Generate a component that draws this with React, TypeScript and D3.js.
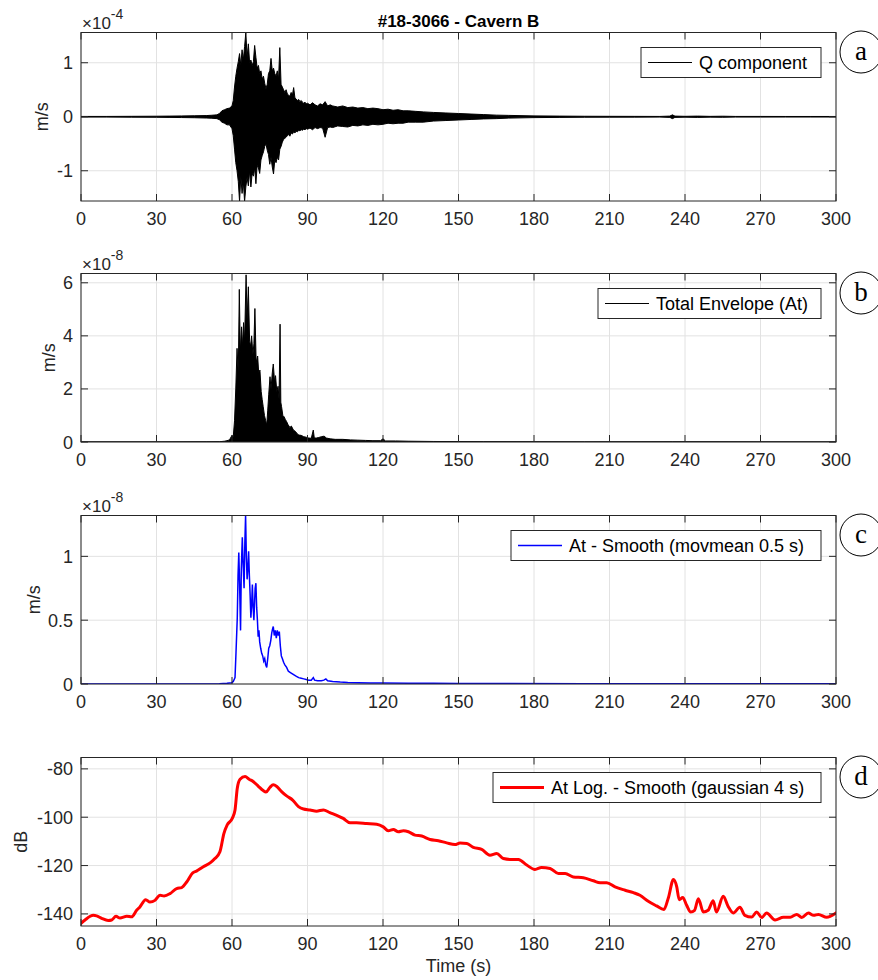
import React from 'react';
import * as d3 from 'd3';

// time axis (s)
const xTicks = [0, 30, 60, 90, 120, 150, 180, 210, 240, 270, 300];

// (a) Q component, upper / lower excursion of the trace, x1e-4 m/s
const qSeries: [number, number, number][] = [
  [0, 0.006, -0.006], [10, 0.006, -0.006], [20, 0.008, -0.008], [30, 0.01, -0.01],
  [35, 0.012, -0.012], [40, 0.015, -0.015], [45, 0.018, -0.018], [50, 0.022, -0.024],
  [52, 0.028, -0.028], [54, 0.035, -0.035], [55, 0.06, -0.055], [56, 0.11, -0.1],
  [57, 0.13, -0.12], [58, 0.15, -0.15], [59, 0.16, -0.15], [60, 0.2, -0.22],
  [60.5, 0.3, -0.35], [61, 0.55, -0.6], [61.5, 0.75, -0.85], [62, 0.9, -1.0],
  [62.5, 1.02, -1.2], [63, 1.17, -1.57], [63.5, 0.95, -1.1], [64, 1.24, -1.42],
  [64.5, 1.05, -1.2], [65, 1.3, -1.57], [65.5, 1.56, -1.3], [66, 1.1, -1.12],
  [66.5, 1.35, -1.28], [67, 1.0, -1.0], [67.5, 1.05, -1.3], [68, 0.95, -1.05],
  [68.5, 1.02, -1.1], [69, 1.32, -0.95], [69.5, 1.1, -1.24], [70, 0.9, -0.9],
  [70.5, 0.95, -0.95], [71, 0.8, -1.05], [71.5, 0.85, -0.8], [72, 0.7, -0.72],
  [72.5, 0.75, -0.65], [73, 0.62, -0.55], [73.5, 0.52, -0.5], [74, 0.6, -0.62],
  [74.5, 0.8, -0.7], [75, 0.85, -0.88], [75.5, 1.08, -0.75], [76, 0.85, -0.93],
  [76.5, 0.9, -1.06], [77, 0.8, -0.8], [77.5, 0.75, -0.85], [78, 0.85, -0.75],
  [78.5, 0.7, -0.8], [79, 1.28, -0.6], [79.5, 0.6, -0.55], [80, 0.55, -0.47],
  [80.5, 0.5, -0.42], [81, 0.45, -0.4], [81.5, 0.5, -0.38], [82, 0.42, -0.35],
  [82.5, 0.4, -0.33], [83, 0.38, -0.36], [83.5, 0.45, -0.3], [84, 0.4, -0.32],
  [84.5, 0.54, -0.28], [85, 0.35, -0.3], [85.5, 0.33, -0.27], [86, 0.3, -0.28],
  [86.5, 0.32, -0.25], [87, 0.28, -0.26], [87.5, 0.3, -0.24], [88, 0.27, -0.25],
  [88.5, 0.25, -0.23], [89, 0.27, -0.24], [89.5, 0.24, -0.22], [90, 0.25, -0.23],
  [91, 0.22, -0.21], [92, 0.26, -0.24], [93, 0.22, -0.2], [94, 0.2, -0.22],
  [95, 0.24, -0.2], [96, 0.22, -0.21], [97, 0.28, -0.38], [98, 0.2, -0.2],
  [99, 0.22, -0.19], [100, 0.2, -0.2], [102, 0.18, -0.17], [104, 0.2, -0.18],
  [106, 0.17, -0.19], [108, 0.18, -0.16], [110, 0.16, -0.17], [112, 0.17, -0.15],
  [114, 0.15, -0.16], [116, 0.16, -0.14], [118, 0.15, -0.15], [120, 0.13, -0.14],
  [122, 0.14, -0.12], [124, 0.12, -0.13], [126, 0.13, -0.12], [128, 0.11, -0.12],
  [130, 0.11, -0.1], [133, 0.1, -0.1], [136, 0.09, -0.1], [140, 0.08, -0.08],
  [145, 0.07, -0.07], [150, 0.06, -0.06], [155, 0.05, -0.05], [160, 0.04, -0.04],
  [165, 0.03, -0.035], [170, 0.025, -0.025], [180, 0.016, -0.016], [190, 0.012, -0.012],
  [200, 0.009, -0.009], [210, 0.008, -0.008], [220, 0.007, -0.007], [230, 0.006, -0.006],
  [234, 0.012, -0.012], [235, 0.035, -0.035], [236, 0.012, -0.012], [240, 0.008, -0.008],
  [245, 0.012, -0.012], [250, 0.007, -0.007], [255, 0.01, -0.01], [260, 0.006, -0.006],
  [270, 0.006, -0.006], [280, 0.005, -0.005], [290, 0.005, -0.005], [300, 0.005, -0.005],
];

// (b) total envelope At, x1e-8 m/s
const envSeries: [number, number][] = [
  [0, 0], [30, 0], [50, 0.005], [55, 0.01], [57, 0.03], [58, 0.05], [59, 0.08],
  [60, 0.25], [60.5, 0.2], [61, 0.8], [61.5, 2.0], [62, 3.53], [62.5, 2.6],
  [62.9, 5.75], [63.3, 3.4], [63.8, 4.34], [64.2, 3.6], [64.6, 4.5], [65, 3.8],
  [65.6, 6.3], [66, 4.6], [66.5, 5.85], [67, 3.8], [67.4, 3.6], [67.8, 4.0],
  [68.3, 3.3], [68.7, 3.7], [69.1, 5.03], [69.6, 3.0], [70.2, 3.24], [70.6, 2.6],
  [71.1, 2.71], [71.6, 1.9], [72, 1.6], [72.4, 1.33], [72.9, 1.0], [73.4, 0.8],
  [73.8, 0.64], [74.2, 1.2], [74.6, 1.8], [75.1, 2.46], [75.5, 2.0], [76, 2.6],
  [76.4, 2.94], [76.9, 2.3], [77.3, 2.5], [77.8, 1.9], [78.3, 2.1], [78.7, 1.6],
  [79.1, 4.44], [79.4, 1.5], [79.7, 1.33], [80.2, 1.0], [80.7, 0.95], [81.2, 0.85],
  [81.7, 0.77], [82.3, 0.65], [83, 0.55], [83.6, 0.6], [84.4, 0.45], [85.2, 0.4],
  [86, 0.3], [86.6, 0.26], [87.5, 0.25], [88.5, 0.2], [89.5, 0.18], [90.5, 0.15],
  [91.5, 0.14], [92.3, 0.45], [92.7, 0.15], [93.5, 0.15], [94.5, 0.17], [95.5, 0.2],
  [96.6, 0.22], [97.5, 0.15], [99, 0.12], [101, 0.1], [104, 0.1], [107, 0.08],
  [110, 0.07], [113, 0.06], [116, 0.05], [119, 0.05], [120, 0.12], [121, 0.04],
  [125, 0.04], [130, 0.03], [140, 0.02], [150, 0.015], [160, 0.01], [180, 0.005],
  [200, 0.003], [235, 0.005], [300, 0],
];

// (c) At smoothed, movmean 0.5 s, x1e-8 m/s
const smoothSeries: [number, number][] = [
  [0, 0], [55, 0.002], [58, 0.005], [59.9, 0.01], [60.5, 0.02], [61.2, 0.05],
  [61.6, 0.25], [62.1, 0.52], [62.4, 0.85], [62.7, 1.03], [63.0, 0.8], [63.4, 0.42],
  [63.7, 0.9], [64.1, 1.15], [64.4, 0.95], [64.8, 0.75], [65.1, 1.1], [65.4, 1.32],
  [65.7, 1.0], [66.0, 0.82], [66.3, 0.9], [66.6, 1.04], [66.9, 0.85], [67.2, 0.7],
  [67.5, 0.52], [67.8, 0.62], [68.1, 0.78], [68.4, 0.6], [68.7, 0.5], [69.0, 0.65],
  [69.2, 0.75], [69.5, 0.79], [69.8, 0.6], [70.1, 0.5], [70.4, 0.37], [70.7, 0.42],
  [71.0, 0.33], [71.4, 0.28], [71.8, 0.24], [72.2, 0.22], [72.6, 0.18], [73.0, 0.2],
  [73.4, 0.15], [73.8, 0.13], [74.2, 0.2], [74.6, 0.28], [75.0, 0.3], [75.4, 0.34],
  [75.8, 0.4], [76.1, 0.43], [76.4, 0.45], [76.8, 0.38], [77.2, 0.42], [77.6, 0.36],
  [78.0, 0.42], [78.4, 0.38], [78.8, 0.41], [79.2, 0.3], [79.6, 0.22], [80.0, 0.2],
  [80.5, 0.17], [81.0, 0.15], [81.7, 0.13], [82.4, 0.1], [83.2, 0.09], [84.0, 0.08],
  [84.8, 0.07], [85.6, 0.06], [86.5, 0.05], [87.5, 0.045], [88.5, 0.04], [89.5, 0.035],
  [90.5, 0.03], [91.5, 0.03], [92.3, 0.05], [92.8, 0.03], [94, 0.025], [95.5, 0.025],
  [96.5, 0.03], [97.3, 0.04], [98, 0.025], [100, 0.02], [103, 0.015], [106, 0.012],
  [110, 0.01], [115, 0.008], [120, 0.008], [130, 0.006], [140, 0.005], [150, 0.004],
  [170, 0.003], [200, 0.002], [300, 0.001],
];

// (d) At log, gaussian 4 s smoothing, dB
const dbSeries: [number, number][] = [
  [0, -143.9], [1.6, -142.5], [4.9, -140.6], [6.2, -140.8], [8.2, -141.8], [10.8, -142.7],
  [12.2, -142.5], [13.9, -141.0], [15.5, -141.7], [18.2, -141.0], [20.1, -141.2],
  [22.1, -138.5], [23.4, -137.1], [25.7, -134.1], [27.4, -135.1], [29.4, -134.4],
  [31.4, -132.3], [33, -132.6], [35.4, -131.6], [38, -129.5], [40, -129.1], [42, -126.8],
  [44.4, -123.0], [45.9, -122.3], [48.6, -120.5], [51.3, -118.9], [53.2, -117.1],
  [55.2, -114.3], [56.8, -106.7], [58.1, -103.2], [60.1, -100.5], [61.2, -97.0],
  [62.1, -88.0], [63.2, -84.3], [65.2, -83.2], [66.8, -84.3], [68.5, -85.3], [70.4, -87.1],
  [72.4, -89.0], [73.5, -89.6], [75.1, -87.6], [76.4, -86.6], [77.8, -87.3], [79.7, -89.4],
  [81.7, -91.2], [84.1, -92.9], [86.4, -95.6], [88.4, -96.6], [91, -97.0], [93.6, -97.5],
  [96.3, -97.0], [98.9, -98.1], [101.6, -99.2], [104.2, -100.5], [106.9, -102.3],
  [109.5, -102.3], [113.5, -102.6], [117.5, -102.9], [120.1, -104.0], [122.1, -105.6],
  [124.1, -105.1], [126.1, -106.0], [128.1, -105.6], [130.1, -106.0], [132.7, -107.4],
  [135.4, -107.8], [138.7, -109.2], [142, -109.7], [145.3, -110.6], [148.6, -111.3],
  [150.6, -110.7], [153.3, -110.9], [155.9, -112.5], [159.2, -113.3], [162.5, -115.7],
  [165.2, -115.0], [167.8, -117.1], [171.1, -117.5], [173.8, -117.5], [177.1, -119.8],
  [180.4, -121.6], [183, -120.8], [186.4, -121.2], [189.7, -123.3], [192.4, -123.3],
  [195.6, -124.7], [199.6, -125.0], [203.6, -126.3], [206.3, -127.1], [208.9, -127.1],
  [212.2, -128.8], [216.2, -130.2], [219.5, -131.2], [222.1, -132.3], [225.4, -134.8],
  [228.7, -136.7], [231.6, -138.2], [233.4, -133.3], [235.4, -125.8], [236.7, -128.7],
  [237.7, -134.1], [239.1, -133.2], [240.6, -136.3], [242.3, -139.2], [243.8, -138.5],
  [245.3, -133.7], [247.3, -139.2], [249.2, -138.5], [251.2, -134.6], [252.5, -139.2],
  [255.2, -132.7], [257.1, -136.8], [259.2, -139.6], [261.8, -137.2], [263.8, -140.6],
  [266.5, -141.3], [268.5, -139.2], [270.5, -141.5], [272.4, -139.6], [275.8, -142.5],
  [279.1, -141.4], [281.8, -141.4], [284.4, -140.2], [286.4, -141.5], [289, -139.6],
  [291.1, -140.6], [293, -140.2], [296.3, -141.4], [300, -139.6],
];

const yTicksA = [-1, 0, 1];
const yTicksB = [0, 2, 4, 6];
const yTicksC = [0, 0.5, 1];
const yTicksD = [-140, -120, -100, -80];

const W = 878;
const H = 980;
const LEFT = 81;
const RIGHT = 836;
const PH = 168.5;
const FONT = '"Liberation Sans", Arial, Helvetica, sans-serif';
const SERIF = '"Liberation Serif", "Times New Roman", serif';
const AXIS = '#262626';
const GRID = '#e2e2e2';
const TICK = 7;

const x = d3.scaleLinear().domain([0, 300]).range([LEFT, RIGHT]);

type PanelProps = {
  id: string;
  top: number;
  domain: [number, number];
  ticks: number[];
  label: string;
  labelX: number;
  exponent?: string;
  letter: string;
  legendText: string;
  legendLeft: number;
  legendColor: string;
  legendWidth: number;
  children: (y: d3.ScaleLinear<number, number>) => React.ReactNode;
};

function Panel(p: PanelProps) {
  const bottom = p.top + PH;
  const y = d3.scaleLinear().domain(p.domain).range([bottom, p.top]);
  const midY = p.top + PH / 2;
  const lgTop = p.top + 15;
  const lgH = 30;
  return (
    <g>
      <defs>
        <clipPath id={`clip-${p.id}`}>
          <rect x={LEFT} y={p.top} width={RIGHT - LEFT} height={PH} />
        </clipPath>
      </defs>
      <rect x={LEFT} y={p.top} width={RIGHT - LEFT} height={PH} fill="#fff" />
      {/* grid */}
      {xTicks.map((t) => (
        <line key={`gx${t}`} x1={x(t)} x2={x(t)} y1={p.top} y2={bottom} stroke={GRID} strokeWidth={1} />
      ))}
      {p.ticks.map((t) => (
        <line key={`gy${t}`} x1={LEFT} x2={RIGHT} y1={y(t)} y2={y(t)} stroke={GRID} strokeWidth={1} />
      ))}
      <g clipPath={`url(#clip-${p.id})`}>{p.children(y)}</g>
      {/* ticks */}
      {xTicks.map((t) => (
        <g key={`tx${t}`}>
          <line x1={x(t)} x2={x(t)} y1={bottom} y2={bottom - TICK} stroke={AXIS} />
          <line x1={x(t)} x2={x(t)} y1={p.top} y2={p.top + TICK} stroke={AXIS} />
          <text x={x(t)} y={bottom + 24} textAnchor="middle" fontSize={18} fill={AXIS} fontFamily={FONT}>
            {t}
          </text>
        </g>
      ))}
      {p.ticks.map((t) => (
        <g key={`ty${t}`}>
          <line x1={LEFT} x2={LEFT + TICK} y1={y(t)} y2={y(t)} stroke={AXIS} />
          <line x1={RIGHT} x2={RIGHT - TICK} y1={y(t)} y2={y(t)} stroke={AXIS} />
          <text x={LEFT - 8} y={y(t) + 6.5} textAnchor="end" fontSize={18} fill={AXIS} fontFamily={FONT}>
            {String(t)}
          </text>
        </g>
      ))}
      <rect x={LEFT} y={p.top} width={RIGHT - LEFT} height={PH} fill="none" stroke={AXIS} strokeWidth={1} />
      {/* y label */}
      <text
        transform={`translate(${p.labelX},${midY}) rotate(-90)`}
        textAnchor="middle"
        fontSize={18}
        fill={AXIS}
        fontFamily={FONT}
      >
        {p.label}
      </text>
      {p.exponent && (
        <text x={LEFT + 1} y={p.top - 4} fontSize={17} fill={AXIS} fontFamily={FONT}>
          ×10
          <tspan dy={-10} fontSize={14}>
            {p.exponent}
          </tspan>
        </text>
      )}
      {/* legend */}
      <rect x={p.legendLeft} y={lgTop} width={821 - p.legendLeft} height={lgH} fill="#fff" stroke={AXIS} strokeWidth={1} />
      <line
        x1={p.legendLeft + 7}
        x2={p.legendLeft + 51}
        y1={lgTop + lgH / 2}
        y2={lgTop + lgH / 2}
        stroke={p.legendColor}
        strokeWidth={p.legendWidth}
      />
      <text x={p.legendLeft + 58} y={lgTop + 21.5} fontSize={18} fill="#000" fontFamily={FONT}>
        {p.legendText}
      </text>
      {/* panel letter */}
      <circle cx={861} cy={p.top + 19.5} r={21} fill="#fff" stroke="#000" strokeWidth={1} />
      <text x={861} y={p.top + 27.5} textAnchor="middle" fontSize={27} fontFamily={SERIF} fill="#000">
        {p.letter}
      </text>
    </g>
  );
}

export default function App() {
  const tops = [32.5, 273.5, 515.5, 757.5];
  return (
    <svg
      width={W}
      height={H}
      viewBox={`0 0 ${W} ${H}`}
      style={{ position: 'absolute', left: 0, top: 0, background: '#fff' }}
    >
      <rect width={W} height={H} fill="#fff" />
      <text x={(LEFT + RIGHT) / 2} y={27} textAnchor="middle" fontSize={17} fontWeight="bold" fill="#000" fontFamily={FONT}>
        #18-3066 - Cavern B
      </text>

      <Panel
        id="a"
        top={tops[0]}
        domain={[-1.56, 1.56]}
        ticks={yTicksA}
        label="m/s"
        labelX={48}
        exponent="-4"
        letter="a"
        legendText="Q component"
        legendLeft={641}
        legendColor="#000"
        legendWidth={1}
      >
        {(y) => {
          const area = d3
            .area<[number, number, number]>()
            .x((d) => x(d[0]))
            .y0((d) => y(d[2]))
            .y1((d) => y(d[1]));
          return <path d={area(qSeries) || ''} fill="#000" stroke="#000" strokeWidth={1} strokeLinejoin="miter" />;
        }}
      </Panel>

      <Panel
        id="b"
        top={tops[1]}
        domain={[0, 6.35]}
        ticks={yTicksB}
        label="m/s"
        labelX={55}
        exponent="-8"
        letter="b"
        legendText="Total Envelope (At)"
        legendLeft={598}
        legendColor="#000"
        legendWidth={1}
      >
        {(y) => {
          const area = d3
            .area<[number, number]>()
            .x((d) => x(d[0]))
            .y0(y(0))
            .y1((d) => y(d[1]));
          return <path d={area(envSeries) || ''} fill="#000" stroke="#000" strokeWidth={1} />;
        }}
      </Panel>

      <Panel
        id="c"
        top={tops[2]}
        domain={[0, 1.32]}
        ticks={yTicksC}
        label="m/s"
        labelX={40}
        exponent="-8"
        letter="c"
        legendText="At - Smooth (movmean 0.5 s)"
        legendLeft={511}
        legendColor="#0000ff"
        legendWidth={1.6}
      >
        {(y) => {
          const line = d3
            .line<[number, number]>()
            .x((d) => x(d[0]))
            .y((d) => y(d[1]));
          return <path d={line(smoothSeries) || ''} fill="none" stroke="#0000ff" strokeWidth={1.5} />;
        }}
      </Panel>

      <Panel
        id="d"
        top={tops[3]}
        domain={[-145, -75.3]}
        ticks={yTicksD}
        label="dB"
        labelX={27}
        letter="d"
        legendText="At Log. - Smooth (gaussian 4 s)"
        legendLeft={493}
        legendColor="#ff0000"
        legendWidth={3}
      >
        {(y) => {
          const line = d3
            .line<[number, number]>()
            .x((d) => x(d[0]))
            .y((d) => y(d[1]))
            .curve(d3.curveMonotoneX);
          return (
            <path
              d={line(dbSeries) || ''}
              fill="none"
              stroke="#ff0000"
              strokeWidth={3}
              strokeLinejoin="round"
              strokeLinecap="round"
            />
          );
        }}
      </Panel>

      <text x={(LEFT + RIGHT) / 2} y={972} textAnchor="middle" fontSize={18} fill={AXIS} fontFamily={FONT}>
        Time (s)
      </text>
    </svg>
  );
}
